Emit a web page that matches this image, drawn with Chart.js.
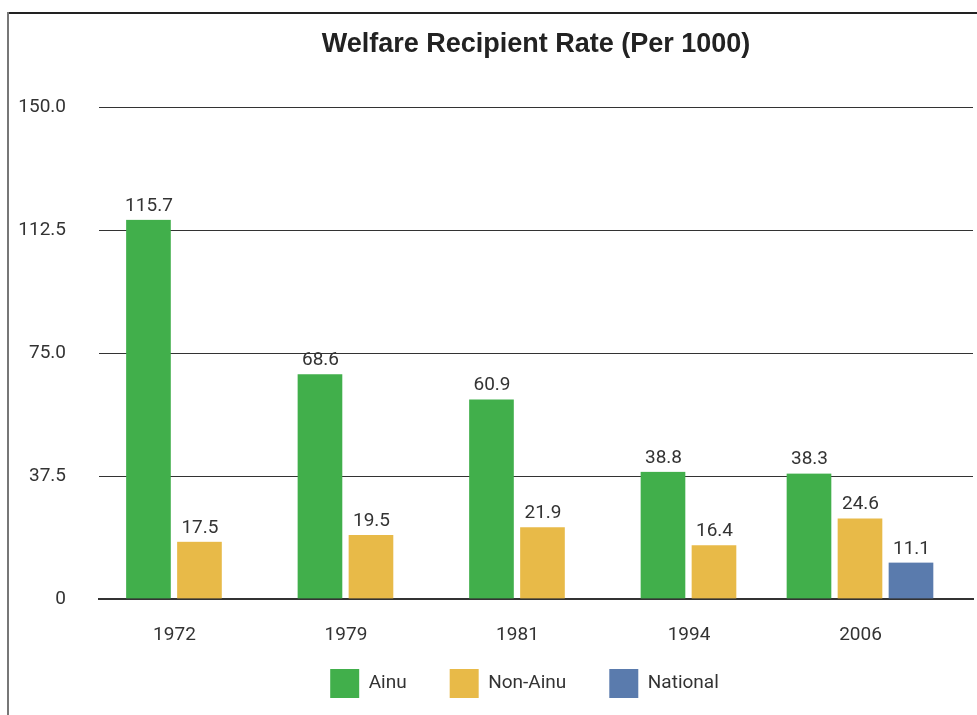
<!DOCTYPE html>
<html>
<head>
<meta charset="utf-8">
<script src="https://cdn.jsdelivr.net/npm/chart.js@4.4.0/dist/chart.umd.min.js"></script>
<style>
  html, body { margin: 0; padding: 0; background: #fff; overflow: hidden; }
  #wrap { position: relative; width: 977px; height: 715px; }
  canvas { position: absolute; left: 0; top: 0; }
  /* frame lines of the original figure */
  #frameTop { position: absolute; left: 8px; top: 12px; right: 0; border-top: 2px solid #222; }
  #frameLeft { position: absolute; left: 7px; top: 12px; bottom: 0; border-left: 2px solid #777; }
</style>
</head>
<body>
<div id="wrap">
  <canvas id="welfareChart" width="977" height="715"></canvas>
  <div id="frameTop"></div>
  <div id="frameLeft"></div>
</div>
<script>
// data
const years = ["1972", "1979", "1981", "1994", "2006"];
const ainu = [115.7, 68.6, 60.9, 38.8, 38.3];
const nonAinu = [17.5, 19.5, 21.9, 16.4, 24.6];
const national = [null, null, null, null, 11.1];
const yTickValues = [0, 37.5, 75, 112.5, 150];
const yTickLabels = ["0", "37.5", "75.0", "112.5", "150.0"];

const FONT = "Roboto, 'Liberation Sans', sans-serif";
const TEXT = "#333";

function points(arr) {
  return arr.map((v, i) => ({ x: i, y: v }));
}

function barSet(label, arr, color) {
  return {
    label: label,
    data: points(arr),
    backgroundColor: color,
    borderColor: "rgba(0,0,0,0)", // transparent side borders make the gap between bars
    borderWidth: { left: 3, right: 4, top: 0, bottom: 0 },
    barThickness: 51,
    skipNull: true,
  };
}

// value labels above each bar
const valueLabels = {
  id: "valueLabels",
  afterDatasetsDraw(chart) {
    const ctx = chart.ctx;
    ctx.save();
    ctx.font = "19px " + FONT;
    ctx.fillStyle = TEXT;
    ctx.textAlign = "center";
    ctx.textBaseline = "alphabetic";
    chart.data.datasets.forEach((ds, i) => {
      chart.getDatasetMeta(i).data.forEach((bar, j) => {
        const v = ds.data[j].y;
        if (v === null || v === undefined) return;
        ctx.fillText(v.toFixed(1), bar.x, bar.y - 9);
      });
    });
    ctx.restore();
  },
};

// axis boxes are squeezed on purpose, so let their labels draw outside them
const noLabelClip = {
  id: "noLabelClip",
  afterLayout(chart) {
    Object.values(chart.scales).forEach((s) => {
      s._computeLabelArea = () => undefined;
    });
  },
};

const ctx = document.getElementById("welfareChart").getContext("2d");
const chart = new Chart(ctx, {
  type: "bar",
  data: {
    datasets: [
      barSet("Ainu", ainu, "#41AF4B"),
      barSet("Non-Ainu", nonAinu, "#E8BA48"),
      barSet("National", national, "#5A7BAD"),
    ],
  },
  plugins: [valueLabels, noLabelClip],
  options: {
    responsive: false,
    animation: false,
    layout: { padding: { left: 76, right: 4, top: 0, bottom: 7 } },
    scales: {
      x: {
        type: "linear",
        offset: false,
        min: -0.44,
        max: 4.656,
        afterBuildTicks: (scale) => {
          scale.ticks = years.map((y, i) => ({ value: i }));
        },
        afterFit: (scale) => {
          scale.height = 27;
        },
        grid: { display: false, offset: false },
        border: { display: true, color: "#333", width: 2 },
        ticks: {
          autoSkip: false,
          maxRotation: 0,
          padding: 17,
          color: TEXT,
          font: { family: FONT, size: 19 },
          callback: (v) => years[v],
        },
      },
      y: {
        min: 0,
        max: 150,
        afterBuildTicks: (scale) => {
          scale.ticks = yTickValues.map((v) => ({ value: v }));
        },
        afterFit: (scale) => {
          scale.width = 23;
        },
        grid: { color: "#333", lineWidth: 1, drawTicks: false },
        border: { display: false },
        ticks: {
          padding: 33,
          color: TEXT,
          font: { family: FONT, size: 19 },
          callback: (v) => yTickLabels[yTickValues.indexOf(v)],
        },
      },
    },
    plugins: {
      title: {
        display: true,
        fullSize: false,
        text: "Welfare Recipient Rate (Per 1000)",
        color: "#222",
        font: { family: "'Liberation Sans', Arial, sans-serif", size: 27, weight: "bold" },
        padding: { top: 28, bottom: 47 },
      },
      legend: {
        position: "bottom",
        labels: {
          boxWidth: 29,
          boxHeight: 29,
          padding: 43,
          color: TEXT,
          font: { family: FONT, size: 19 },
          generateLabels: (c) =>
            Chart.defaults.plugins.legend.labels.generateLabels(c).map((item) => ({
              ...item,
              lineWidth: 0,
              strokeStyle: "rgba(0,0,0,0)",
            })),
        },
      },
      tooltip: { enabled: false },
    },
  },
});
</script>
</body>
</html>
